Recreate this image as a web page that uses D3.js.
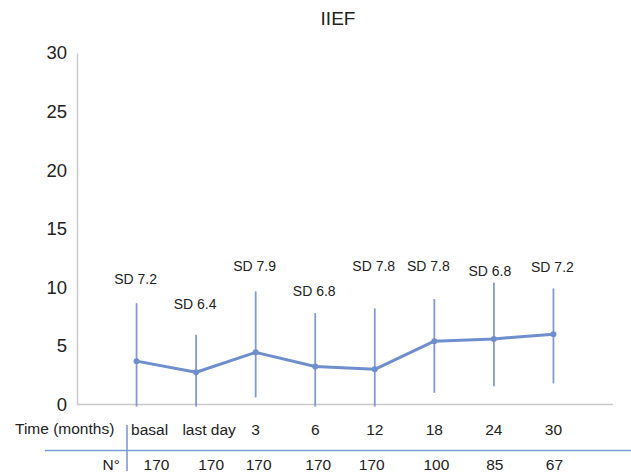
<!DOCTYPE html>
<html>
<head>
<meta charset="utf-8">
<script src="https://cdn.jsdelivr.net/npm/d3@7"></script>
<style>
  html, body { margin: 0; padding: 0; background: #fff; }
  svg { display: block; font-family: "Liberation Sans", Arial, sans-serif; }
</style>
</head>
<body>
<svg id="chart" width="631" height="474"></svg>
<script>
// IIEF score over follow-up: mean, error bar extent, SD label and sample size
const categories = ["basal", "last day", "3", "6", "12", "18", "24", "30"];
const means      = [3.7, 2.75, 4.45, 3.25, 3.0, 5.4, 5.6, 6.0];
const barLow     = [0, 0, 0.6, 0, 0, 1.0, 1.55, 1.8];
const barHigh    = [8.65, 5.95, 9.65, 7.8, 8.2, 9.0, 10.4, 9.9];
const sdLabels   = ["SD 7.2", "SD 6.4", "SD 7.9", "SD 6.8", "SD 7.8", "SD 7.8", "SD 6.8", "SD 7.2"];
const sdLabelPos = [10.6, 8.45, 11.7, 9.6, 11.7, 11.7, 11.3, 11.6];
const counts     = ["170", "170", "170", "170", "170", "100", "85", "67"];
const yTicks     = [0, 5, 10, 15, 20, 25, 30];

const svg = d3.select("#chart");
const lineColor = "#6f8ecd";
const barColor = "#7f9ad4";

const x = d3.scalePoint().domain(categories).range([77, 613]).padding(1);
const y = d3.scaleLinear().domain([0, 30]).range([404.5, 53]);

// title
svg.append("text")
  .attr("x", 338).attr("y", 25)
  .attr("text-anchor", "middle")
  .attr("font-size", 19).attr("fill", "#222")
  .text("IIEF");

// y axis
const yAxis = d3.axisLeft(y).tickValues(yTicks).tickSize(0).tickPadding(10);
const gy = svg.append("g").attr("transform", "translate(77,0)").call(yAxis);
gy.select(".domain").attr("stroke", "#c9c9c9").attr("stroke-width", 1.5);
gy.selectAll("text").attr("font-size", 18.5).attr("fill", "#222")
  .attr("font-family", "Liberation Sans, Arial, sans-serif");

// x baseline
svg.append("line")
  .attr("x1", 77).attr("x2", 613)
  .attr("y1", y(0)).attr("y2", y(0))
  .attr("stroke", "#c9c9c9").attr("stroke-width", 1.5);

// error bars
svg.append("g").selectAll("line")
  .data(categories)
  .join("line")
  .attr("x1", d => x(d)).attr("x2", d => x(d))
  .attr("y1", (d, i) => y(barHigh[i]))
  .attr("y2", (d, i) => barLow[i] === 0 ? y(0) + 2 : y(barLow[i]))
  .attr("stroke", barColor).attr("stroke-width", 1.8);

// mean line
const line = d3.line().x((d, i) => x(categories[i])).y(d => y(d));
svg.append("path")
  .datum(means)
  .attr("d", line)
  .attr("fill", "none")
  .attr("stroke", lineColor).attr("stroke-width", 3)
  .attr("stroke-linejoin", "round");

svg.append("g").selectAll("circle")
  .data(means)
  .join("circle")
  .attr("cx", (d, i) => x(categories[i]))
  .attr("cy", d => y(d))
  .attr("r", 3)
  .attr("fill", lineColor);

// SD labels
svg.append("g").selectAll("text")
  .data(sdLabels)
  .join("text")
  .attr("x", (d, i) => x(categories[i]) + (i === 5 ? -6 : i === 6 ? -4 : -1))
  .attr("y", (d, i) => y(sdLabelPos[i]))
  .attr("text-anchor", "middle")
  .attr("dominant-baseline", "middle")
  .attr("font-size", 14).attr("fill", "#222")
  .text(d => d);

// table below the chart
svg.append("text")
  .attr("x", 15).attr("y", 430)
  .attr("dominant-baseline", "middle")
  .attr("font-size", 15.5).attr("fill", "#222")
  .text("Time (months)");

svg.append("text")
  .attr("x", 120).attr("y", 466)
  .attr("text-anchor", "end")
  .attr("dominant-baseline", "middle")
  .attr("font-size", 15.5).attr("fill", "#222")
  .text("N°");

svg.append("line")
  .attr("x1", 45).attr("x2", 631)
  .attr("y1", 450.5).attr("y2", 450.5)
  .attr("stroke", barColor).attr("stroke-width", 1.6);

svg.append("line")
  .attr("x1", 127).attr("x2", 127)
  .attr("y1", 425).attr("y2", 471)
  .attr("stroke", barColor).attr("stroke-width", 1.6);

svg.append("g").selectAll("text")
  .data(categories)
  .join("text")
  .attr("x", (d, i) => x(d) + (i === 0 ? 13 : i === 1 ? 13 : 0))
  .attr("y", 431)
  .attr("text-anchor", "middle")
  .attr("dominant-baseline", "middle")
  .attr("font-size", 15.5).attr("fill", "#222")
  .text(d => d);

svg.append("g").selectAll("text")
  .data(counts)
  .join("text")
  .attr("x", (d, i) => x(categories[i]) + [20, 15, 3, 3, -3, 2, 1, 1][i])
  .attr("y", 466)
  .attr("text-anchor", "middle")
  .attr("dominant-baseline", "middle")
  .attr("font-size", 15.5).attr("fill", "#222")
  .text(d => d);
</script>
</body>
</html>
